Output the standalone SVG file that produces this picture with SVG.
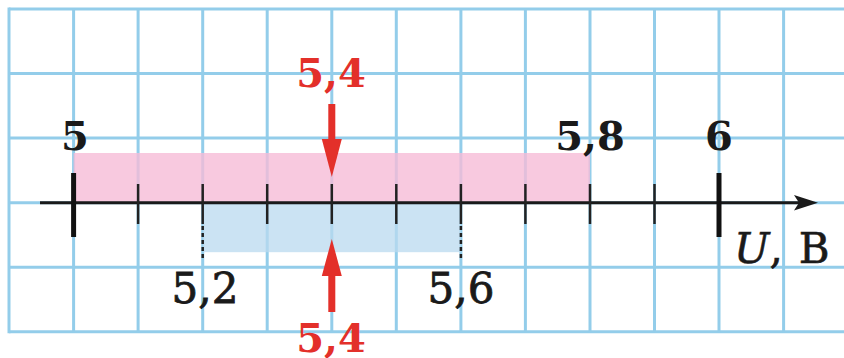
<svg xmlns="http://www.w3.org/2000/svg" width="844" height="358" viewBox="0 0 844 358">
<defs>
<style>
.grid line{stroke:#93cdea;stroke-width:3}
.tick{stroke:#222;stroke-width:2.5}
.major{stroke:#111;stroke-width:5}
.dash{stroke:#222;stroke-width:2.5;stroke-dasharray:4 3}
.lbl{font-family:"DejaVu Serif","Liberation Serif",serif;font-size:42px;text-anchor:middle;fill:#1a1a1a}
.b{font-weight:bold;font-size:40px}
.m{stroke:#1a1a1a;stroke-width:0.8}
.red{fill:#e3302a}
</style>
</defs>
<rect width="844" height="358" fill="#ffffff"/>
<g id="grid" class="grid">
<line x1="9" y1="9" x2="844" y2="9"/>
<line x1="9" y1="73.6" x2="844" y2="73.6"/>
<line x1="9" y1="138.1" x2="844" y2="138.1"/>
<line x1="9" y1="202.7" x2="844" y2="202.7"/>
<line x1="9" y1="267.2" x2="844" y2="267.2"/>
<line x1="9" y1="331.8" x2="844" y2="331.8"/>
<line x1="9" y1="7.5" x2="9" y2="333.3"/>
<line x1="73.6" y1="9" x2="73.6" y2="331.8"/>
<line x1="138.1" y1="9" x2="138.1" y2="331.8"/>
<line x1="202.7" y1="9" x2="202.7" y2="331.8"/>
<line x1="267.2" y1="9" x2="267.2" y2="331.8"/>
<line x1="331.8" y1="9" x2="331.8" y2="331.8"/>
<line x1="396.3" y1="9" x2="396.3" y2="331.8"/>
<line x1="460.9" y1="9" x2="460.9" y2="331.8"/>
<line x1="525.4" y1="9" x2="525.4" y2="331.8"/>
<line x1="590" y1="9" x2="590" y2="331.8"/>
<line x1="654.5" y1="9" x2="654.5" y2="331.8"/>
<line x1="719" y1="9" x2="719" y2="331.8"/>
<line x1="783.6" y1="9" x2="783.6" y2="331.8"/>
</g>
<g id="ranges">
<rect x="73.6" y="153" width="516.4" height="49.7" fill="#f6bcd7" fill-opacity="0.8"/>
<rect x="202.7" y="202.7" width="258.2" height="49.5" fill="#b9d9ef" fill-opacity="0.75"/>
</g>
<g id="axis">
<line x1="40" y1="202.7" x2="800" y2="202.7" stroke="#1a1a1a" stroke-width="3"/>
<polygon points="818,202.7 794,195 799,202.7 794,210.4" fill="#1a1a1a"/>
<line class="major" x1="73.6" y1="173" x2="73.6" y2="237"/>
<line class="major" x1="719" y1="173" x2="719" y2="237"/>
<line class="tick" x1="138.1" y1="184" x2="138.1" y2="224"/>
<line class="tick" x1="202.7" y1="184" x2="202.7" y2="224"/>
<line class="tick" x1="267.2" y1="184" x2="267.2" y2="224"/>
<line class="tick" x1="331.8" y1="184" x2="331.8" y2="224"/>
<line class="tick" x1="396.3" y1="184" x2="396.3" y2="224"/>
<line class="tick" x1="460.9" y1="184" x2="460.9" y2="224"/>
<line class="tick" x1="525.4" y1="184" x2="525.4" y2="224"/>
<line class="tick" x1="590" y1="184" x2="590" y2="224"/>
<line class="tick" x1="654.5" y1="184" x2="654.5" y2="224"/>
<line class="dash" x1="202.7" y1="226" x2="202.7" y2="259"/>
<line class="dash" x1="460.9" y1="226" x2="460.9" y2="259"/>
</g>
<g id="connectors">
<rect x="328.3" y="104" width="7" height="38" class="red"/>
<polygon points="321.8,139 341.8,139 331.8,177" class="red"/>
<rect x="328.3" y="273" width="7" height="39" class="red"/>
<polygon points="321.8,276 341.8,276 331.8,239" class="red"/>
</g>
<g id="labels">
<text class="lbl b" x="75" y="150">5</text>
<text class="lbl b red" x="331" y="87">5,4</text>
<text class="lbl b" x="590" y="150">5,8</text>
<text class="lbl b" x="719" y="150">6</text>
<text class="lbl m" x="205" y="303">5,2</text>
<text class="lbl m" x="461" y="303">5,6</text>
<text class="lbl b red" x="331" y="352">5,4</text>
<text x="734" y="263" style="font-family:'DejaVu Serif','Liberation Serif',serif;font-size:42px;fill:#1a1a1a;stroke:#1a1a1a;stroke-width:0.6"><tspan font-style="italic">U</tspan>,<tspan dx="16">В</tspan></text>
</g>
</svg>
